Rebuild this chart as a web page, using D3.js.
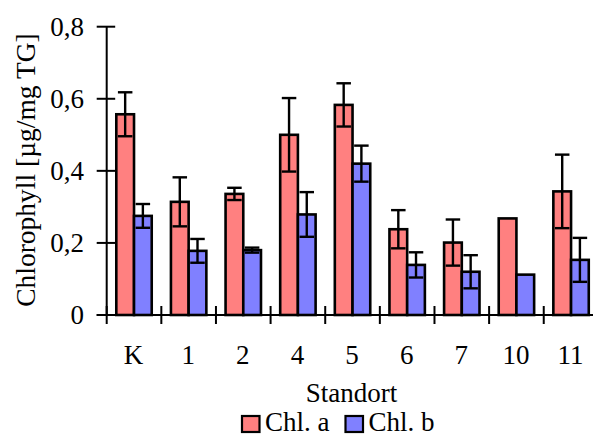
<!DOCTYPE html>
<html>
<head>
<meta charset="utf-8">
<script src="https://cdn.jsdelivr.net/npm/d3@7"></script>
<style>
  html, body { margin: 0; padding: 0; background: #fff; }
  svg { display: block; }
  text { font-family: "Liberation Serif", "Times New Roman", serif; fill: #000; }
</style>
</head>
<body>
<svg id="chart" width="593" height="437"></svg>
<script>
// Sampling sites and mean chlorophyll content with standard deviation
const sites = ["K", "1", "2", "4", "5", "6", "7", "10", "11"];
const chlA = [0.557, 0.314, 0.336, 0.500, 0.583, 0.238, 0.201, 0.268, 0.343];
const chlAErr = [0.061, 0.068, 0.017, 0.102, 0.060, 0.053, 0.064, 0, 0.102];
const chlB = [0.275, 0.178, 0.180, 0.279, 0.420, 0.139, 0.120, 0.112, 0.153];
const chlBErr = [0.033, 0.033, 0.007, 0.062, 0.050, 0.035, 0.046, 0, 0.061];
const yTicks = [0, 0.2, 0.4, 0.6, 0.8];
const seriesNames = ["Chl. a", "Chl. b"];
const seriesColors = ["#FF8080", "#8080FF"];

const svg = d3.select("#chart");
const fontSize = 27;

const x0 = 106.7, yBottom = 315, yTop = 26.7;
const step = 54.63;

const x = d3.scaleBand()
  .domain(sites)
  .range([x0, x0 + step * sites.length])
  .padding(0);

const xInner = d3.scaleBand()
  .domain([0, 1])
  .range([0, x.bandwidth()])
  .paddingInner(0)
  .paddingOuter(0.5425);

const y = d3.scaleLinear().domain([0, 0.8]).range([yBottom, yTop]);

const rows = sites.map((s, i) => ({
  site: s,
  vals: [
    { k: 0, v: chlA[i], e: chlAErr[i] },
    { k: 1, v: chlB[i], e: chlBErr[i] }
  ]
}));

// Bars
const groups = svg.append("g").selectAll("g")
  .data(rows).join("g")
  .attr("transform", d => `translate(${x(d.site)},0)`);

groups.selectAll("rect")
  .data(d => d.vals).join("rect")
  .attr("x", d => xInner(d.k))
  .attr("y", d => y(d.v))
  .attr("width", xInner.bandwidth())
  .attr("height", d => y(0) - y(d.v))
  .attr("fill", d => seriesColors[d.k])
  .attr("stroke", "#000")
  .attr("stroke-width", 2.6);

// Error bars (mean ± SD, capped at both ends)
const capW = 14.5;
const eb = groups.selectAll("g.err")
  .data(d => d.vals.filter(v => v.e > 0)).join("g")
  .attr("class", "err")
  .attr("stroke", "#000")
  .attr("stroke-width", 2.4);

const cx = d => xInner(d.k) + xInner.bandwidth() / 2;
eb.append("line")
  .attr("x1", cx).attr("x2", cx)
  .attr("y1", d => y(d.v + d.e))
  .attr("y2", d => y(d.v - d.e));
eb.append("line")
  .attr("x1", d => cx(d) - capW / 2)
  .attr("x2", d => cx(d) + capW / 2)
  .attr("y1", d => y(d.v + d.e))
  .attr("y2", d => y(d.v + d.e));
eb.append("line")
  .attr("x1", d => cx(d) - capW / 2)
  .attr("x2", d => cx(d) + capW / 2)
  .attr("y1", d => y(d.v - d.e))
  .attr("y2", d => y(d.v - d.e));

// Y axis: line with ticks crossing it
const yAxis = svg.append("g");
yAxis.append("line")
  .attr("x1", x0).attr("x2", x0)
  .attr("y1", y(0.8)).attr("y2", y(0))
  .attr("stroke", "#000").attr("stroke-width", 2);
yAxis.selectAll("line.tick")
  .data(yTicks).join("line")
  .attr("class", "tick")
  .attr("x1", x0 - 10).attr("x2", x0 + 8.5)
  .attr("y1", d => y(d)).attr("y2", d => y(d))
  .attr("stroke", "#000").attr("stroke-width", 2);
const fmt = d => d === 0 ? "0" : d3.format(".1f")(d).replace(".", ",");
yAxis.selectAll("text")
  .data(yTicks).join("text")
  .attr("x", 84)
  .attr("y", d => y(d) + 9)
  .attr("text-anchor", "end")
  .attr("font-size", fontSize)
  .text(fmt);

// X axis: baseline with boundary ticks crossing it
const xAxis = svg.append("g");
xAxis.append("line")
  .attr("x1", x0 - 10).attr("x2", 593)
  .attr("y1", yBottom).attr("y2", yBottom)
  .attr("stroke", "#000").attr("stroke-width", 2);
xAxis.selectAll("line.tick")
  .data(sites).join("line")
  .attr("class", "tick")
  .attr("x1", d => x(d)).attr("x2", d => x(d))
  .attr("y1", yBottom - 9).attr("y2", yBottom + 9)
  .attr("stroke", "#000").attr("stroke-width", 2);
xAxis.selectAll("text")
  .data(sites).join("text")
  .attr("x", d => x(d) + x.bandwidth() / 2 - 0.5)
  .attr("y", 363.5)
  .attr("text-anchor", "middle")
  .attr("font-size", fontSize)
  .text(d => d);

// Axis titles
svg.append("text")
  .attr("x", 351.5).attr("y", 402)
  .attr("text-anchor", "middle")
  .attr("font-size", fontSize)
  .text("Standort");

svg.append("text")
  .attr("transform", "translate(35,170) rotate(-90)")
  .attr("text-anchor", "middle")
  .attr("font-size", 27.5)
  .text("Chlorophyll [µg/mg TG]");

// Legend
const legendX = [242, 345.5];
const legend = svg.append("g").selectAll("g")
  .data(seriesNames).join("g")
  .attr("transform", (d, i) => `translate(${legendX[i]},0)`);
legend.append("rect")
  .attr("x", 0).attr("y", 416)
  .attr("width", 17.5).attr("height", 16)
  .attr("fill", (d, i) => seriesColors[i])
  .attr("stroke", "#000").attr("stroke-width", 2.2);
legend.append("text")
  .attr("x", 23).attr("y", 431)
  .attr("font-size", fontSize)
  .text(d => d);
</script>
</body>
</html>
